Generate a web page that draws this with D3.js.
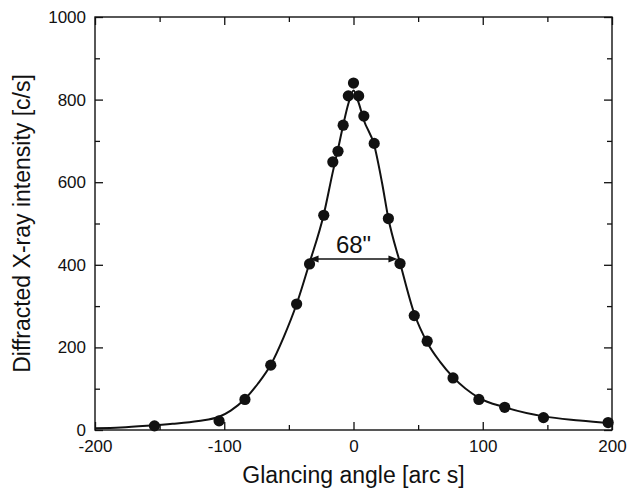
<!DOCTYPE html>
<html>
<head>
<meta charset="utf-8">
<script src="https://cdn.jsdelivr.net/npm/d3@7"></script>
<style>
body { margin: 0; background: #fff; }
text { font-family: "Liberation Sans", Arial, Helvetica, sans-serif; fill: #111; }
</style>
</head>
<body>
<script>
// measured points
var angle = [-154, -104, -84, -64, -44, -34, -23, -16, -12, -8, -4, 0, 4, 8, 16, 27, 36, 47, 57, 77, 97, 117, 147, 197];
var intensity = [10, 22, 74, 157, 305, 402, 520, 649, 675, 738, 809, 840, 809, 760, 694, 512, 403, 277, 215, 126, 74, 55, 30, 18];

// fitted curve
var fitAngle = [-200, -180, -160, -140, -120, -104, -95, -84, -74, -64, -54, -44, -34, -23, -16, -12, -8, -4, 0, 4, 8, 16, 22, 27, 36, 47, 57, 67, 77, 97, 117, 147, 175, 200];
var fitIntensity = [4, 6, 10, 15, 22, 32, 47, 75, 112, 158, 225, 305, 405, 522, 625, 680, 738, 790, 822, 792, 750, 690, 600, 512, 405, 282, 212, 165, 128, 78, 55, 33, 23, 16];

var xTicks = [-200, -100, 0, 100, 200];
var xMinor = [-150, -50, 50, 150];
var yTicks = [0, 200, 400, 600, 800, 1000];
var yMinor = [100, 300, 500, 700, 900];

var fwhmEnds = [-34, 34];
var fwhmLevel = 414;
var fwhmLabel = '68"';

var xTitle = "Glancing angle [arc s]";
var yTitle = "Diffracted X-ray intensity [c/s]";

var width = 632, height = 488;
var margin = {top: 17, right: 20, bottom: 58, left: 95};

var svg = d3.select("body").append("svg")
    .attr("width", width)
    .attr("height", height);

var x = d3.scaleLinear().domain([-200, 200]).range([margin.left, width - margin.right]);
var y = d3.scaleLinear().domain([0, 1000]).range([height - margin.bottom, margin.top]);

// plain hyphen like the original, not the unicode minus
var plain = function (d) { return String(d); };

function styleAxis(g) {
    g.select(".domain").remove();
    g.selectAll(".tick line").attr("stroke", "#111").attr("stroke-width", 1.3);
    g.selectAll("text").style("font-size", "17px").attr("fill", "#111");
}

// bottom + top
svg.append("g")
    .attr("transform", "translate(0," + y(0) + ")")
    .call(d3.axisBottom(x).tickValues(xTicks).tickSize(-8).tickPadding(10).tickFormat(plain))
    .call(styleAxis);
svg.append("g")
    .attr("transform", "translate(0," + y(0) + ")")
    .call(d3.axisBottom(x).tickValues(xMinor).tickSize(-5).tickFormat(""))
    .call(styleAxis);
svg.append("g")
    .attr("transform", "translate(0," + y(1000) + ")")
    .call(d3.axisTop(x).tickValues(xTicks).tickSize(-8).tickFormat(""))
    .call(styleAxis);
svg.append("g")
    .attr("transform", "translate(0," + y(1000) + ")")
    .call(d3.axisTop(x).tickValues(xMinor).tickSize(-5).tickFormat(""))
    .call(styleAxis);

// left + right
svg.append("g")
    .attr("transform", "translate(" + x(-200) + ",0)")
    .call(d3.axisLeft(y).tickValues(yTicks).tickSize(-8).tickPadding(9).tickFormat(plain))
    .call(styleAxis);
svg.append("g")
    .attr("transform", "translate(" + x(-200) + ",0)")
    .call(d3.axisLeft(y).tickValues(yMinor).tickSize(-5).tickFormat(""))
    .call(styleAxis);
svg.append("g")
    .attr("transform", "translate(" + x(200) + ",0)")
    .call(d3.axisRight(y).tickValues(yTicks).tickSize(-8).tickFormat(""))
    .call(styleAxis);
svg.append("g")
    .attr("transform", "translate(" + x(200) + ",0)")
    .call(d3.axisRight(y).tickValues(yMinor).tickSize(-5).tickFormat(""))
    .call(styleAxis);

// frame
svg.append("rect")
    .attr("x", x(-200))
    .attr("y", y(1000))
    .attr("width", x(200) - x(-200))
    .attr("height", y(0) - y(1000))
    .attr("fill", "none")
    .attr("stroke", "#111")
    .attr("stroke-width", 1.4);

// fit curve
var fit = fitAngle.map(function (a, i) { return [a, fitIntensity[i]]; });
var line = d3.line()
    .x(function (d) { return x(d[0]); })
    .y(function (d) { return y(d[1]); })
    .curve(d3.curveMonotoneX);

svg.append("path")
    .datum(fit)
    .attr("d", line)
    .attr("fill", "none")
    .attr("stroke", "#111")
    .attr("stroke-width", 2);

// data points
var pts = angle.map(function (a, i) { return {a: a, v: intensity[i]}; });
svg.append("g").selectAll("circle")
    .data(pts)
    .enter().append("circle")
    .attr("cx", function (d) { return x(d.a); })
    .attr("cy", function (d) { return y(d.v); })
    .attr("r", 5.6)
    .attr("fill", "#111");

// FWHM arrow
var ay = y(fwhmLevel), ax0 = x(fwhmEnds[0]), ax1 = x(fwhmEnds[1]);
var headL = 9, headW = 3.5;
svg.append("line")
    .attr("x1", ax0 + headL - 1).attr("x2", ax1 - headL + 1)
    .attr("y1", ay).attr("y2", ay)
    .attr("stroke", "#111").attr("stroke-width", 1.3);
svg.append("path")
    .attr("d", "M" + ax0 + "," + ay + "L" + (ax0 + headL) + "," + (ay - headW) + "L" + (ax0 + headL) + "," + (ay + headW) + "Z")
    .attr("fill", "#111");
svg.append("path")
    .attr("d", "M" + ax1 + "," + ay + "L" + (ax1 - headL) + "," + (ay - headW) + "L" + (ax1 - headL) + "," + (ay + headW) + "Z")
    .attr("fill", "#111");
svg.append("text")
    .attr("x", (ax0 + ax1) / 2)
    .attr("y", ay - 6)
    .attr("text-anchor", "middle")
    .style("font-size", "24px")
    .text(fwhmLabel);

// axis titles
svg.append("text")
    .attr("x", (x(-200) + x(200)) / 2)
    .attr("y", 483)
    .attr("text-anchor", "middle")
    .style("font-size", "23px")
    .text(xTitle);

svg.append("text")
    .attr("transform", "translate(30," + (y(0) + y(1000)) / 2 + ") rotate(-90)")
    .attr("text-anchor", "middle")
    .style("font-size", "23px")
    .text(yTitle);
</script>
</body>
</html>
